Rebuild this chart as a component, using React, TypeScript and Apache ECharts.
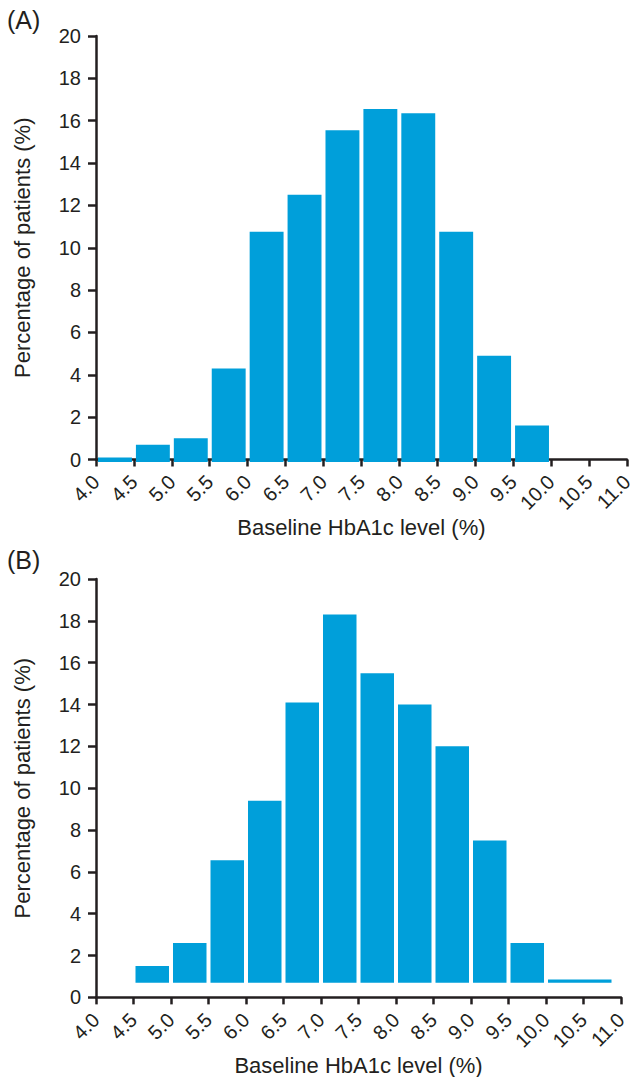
import React, { useEffect, useRef } from "react";
import * as echarts from "echarts";

// Panel A: bins 4.0–10.0
const binLowA = [4.0, 4.5, 5.0, 5.5, 6.0, 6.5, 7.0, 7.5, 8.0, 8.5, 9.0, 9.5];
const binHighA = [4.5, 5.0, 5.5, 6.0, 6.5, 7.0, 7.5, 8.0, 8.5, 9.0, 9.5, 10.0];
const valuesA = [0.1, 0.7, 1.0, 4.3, 10.75, 12.5, 15.55, 16.55, 16.35, 10.75, 4.9, 1.6];
const baseA = -0.12;

// Panel B: bins 4.5–10.9
const binLowB = [4.5, 5.0, 5.5, 6.0, 6.5, 7.0, 7.5, 8.0, 8.5, 9.0, 9.5, 10.0];
const binHighB = [5.0, 5.5, 6.0, 6.5, 7.0, 7.5, 8.0, 8.5, 9.0, 9.5, 10.0, 10.9];
const valuesB = [1.5, 2.6, 6.55, 9.4, 14.1, 18.3, 15.5, 14.0, 12.0, 7.5, 2.6, 0.85];
const baseB = 0.7;

const panelLabels = ["(A)", "(B)"];
const xTitle = "Baseline HbA1c level (%)";
const yTitle = "Percentage of patients (%)";

const FONT = "'Liberation Sans', Arial, Helvetica, sans-serif";
const INK = "#231f20";
const BAR = "#009fda";

function buildData(lo: number[], hi: number[], v: number[], base: number) {
  return lo.map((l, i) => [l, hi[i], v[i], base]);
}

const renderBar = (params: any, api: any) => {
  const lo = api.value(0);
  const hi = api.value(1);
  const top = api.value(2);
  const base = api.value(3);
  const p0 = api.coord([lo, top]);
  const p1 = api.coord([hi, base]);
  const inset = 2;
  return {
    type: "rect",
    shape: {
      x: p0[0] + inset,
      y: p0[1],
      width: p1[0] - p0[0] - inset * 2,
      height: p1[1] - p0[1],
    },
    style: { fill: BAR },
  };
};

function xAxisCfg(gridIndex: number) {
  return {
    type: "value",
    gridIndex,
    min: 4,
    max: 11,
    interval: 0.5,
    name: xTitle,
    nameLocation: "middle",
    nameGap: 50,
    nameTextStyle: { fontFamily: FONT, fontSize: 22, color: INK },
    splitLine: { show: false },
    axisLine: { show: true, onZero: false, lineStyle: { color: INK, width: 2.5 } },
    axisTick: { show: true, inside: false, length: 7, lineStyle: { color: INK, width: 2.5 } },
    axisLabel: {
      rotate: 45,
      margin: 19,
      fontFamily: FONT,
      fontSize: 20,
      color: INK,
      formatter: (v: number) => v.toFixed(1),
      showMinLabel: true,
      showMaxLabel: true,
    },
  };
}

function yAxisCfg(gridIndex: number) {
  return {
    type: "value",
    gridIndex,
    min: 0,
    max: 20,
    interval: 2,
    name: yTitle,
    nameLocation: "middle",
    nameGap: 63,
    nameTextStyle: { fontFamily: FONT, fontSize: 22, color: INK },
    splitLine: { show: false },
    axisLine: { show: true, lineStyle: { color: INK, width: 2.5 } },
    axisTick: { show: true, inside: false, length: 8, lineStyle: { color: INK, width: 2.5 } },
    axisLabel: { margin: 15, fontFamily: FONT, fontSize: 20, color: INK },
  };
}

export default function App() {
  const ref = useRef<HTMLDivElement>(null);
  useEffect(() => {
    if (!ref.current) return;
    const chart = echarts.init(ref.current, undefined, { renderer: "svg" });
    chart.setOption({
      animation: false,
      backgroundColor: "#ffffff",
      title: [
        { text: panelLabels[0], left: 7, top: 7, padding: 0, textStyle: { fontFamily: FONT, fontSize: 25, fontWeight: "normal", color: INK } },
        { text: panelLabels[1], left: 7, top: 547, padding: 0, textStyle: { fontFamily: FONT, fontSize: 25, fontWeight: "normal", color: INK } },
      ],
      grid: [
        { left: 96, top: 36, width: 531, height: 423.5 },
        { left: 96, top: 579, width: 525, height: 423.5 },
      ],
      xAxis: [xAxisCfg(0), xAxisCfg(1)],
      yAxis: [yAxisCfg(0), yAxisCfg(1)],
      series: [
        {
          type: "custom",
          xAxisIndex: 0,
          yAxisIndex: 0,
          renderItem: renderBar,
          encode: { x: [0, 1], y: [2, 3] },
          data: buildData(binLowA, binHighA, valuesA, baseA),
          z: 1,
        },
        {
          type: "custom",
          xAxisIndex: 1,
          yAxisIndex: 1,
          renderItem: renderBar,
          encode: { x: [0, 1], y: [2, 3] },
          data: buildData(binLowB, binHighB, valuesB, baseB),
          z: 1,
        },
      ],
    });
    return () => chart.dispose();
  }, []);
  return (
    <div
      ref={ref}
      style={{ position: "absolute", left: 0, top: 0, width: 636, height: 1077, background: "#fff" }}
    />
  );
}
